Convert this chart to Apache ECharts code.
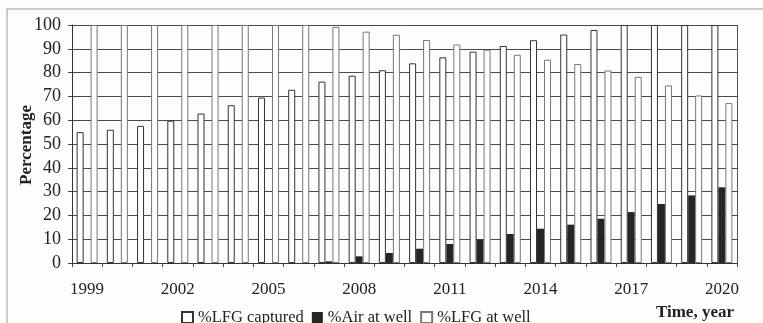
<!DOCTYPE html>
<html>
<head>
<meta charset="utf-8">
<script src="https://cdn.jsdelivr.net/npm/echarts@6/dist/echarts.min.js"></script>
<style>
  html, body { margin: 0; padding: 0; background: #fdfdfd; }
  #chart { width: 763px; height: 323px; }
</style>
</head>
<body>
<div id="chart"></div>
<script>
// years on the x axis
const years = ['1999', '2000', '2001', '2002', '2003', '2004', '2005', '2006', '2007', '2008', '2009',
    '2010', '2011', '2012', '2013', '2014', '2015', '2016', '2017', '2018', '2019', '2020'];

// (percent)
const lfgCaptured = [55, 56, 57.6, 59.8, 62.8, 66.3, 69.5, 72.8, 76.2, 78.7, 81, 83.9, 86.4, 88.8,
    91.2, 93.6, 96, 97.9, 100, 100, 100, 100];
const airAtWell = [0, 0, 0, 0, 0, 0, 0, 0, 0.7, 2.8, 4.2, 6, 8, 9.8, 12.2, 14.4, 16.1, 18.6,
    21.4, 24.8, 28.4, 31.8];
const lfgAtWell = [100, 100, 100, 100, 100, 100, 100, 100, 99.2, 97.2, 95.9, 93.7, 91.8, 89.6,
    87.5, 85.4, 83.6, 80.9, 78.2, 74.6, 70.4, 67.2];

const serif = 'Liberation Serif';

const myChart = echarts.init(document.getElementById('chart'));

const option = {
    backgroundColor: '#fdfdfd',
    animation: false,
    grid: { left: 72, right: 26, top: 25, bottom: 60 },
    legend: {
        top: 304,
        left: 176,
        icon: 'rect',
        itemWidth: 11,
        itemHeight: 11,
        itemGap: 8,
        textStyle: { fontFamily: serif, fontSize: 16.5, color: '#222' },
        data: ['%LFG captured', '%Air at well', '%LFG at well']
    },
    xAxis: {
        type: 'category',
        data: years,
        boundaryGap: true,
        axisLine: { lineStyle: { color: '#333', width: 1 } },
        axisTick: { show: true, interval: 0, length: 4, lineStyle: { color: '#444' } },
        axisLabel: { interval: 2, margin: 18, fontFamily: serif, fontSize: 17, color: '#222' }
    },
    yAxis: {
        type: 'value',
        min: 0,
        max: 100,
        interval: 10,
        axisLine: { show: true, lineStyle: { color: '#333', width: 1 } },
        axisTick: { show: true, length: 4, lineStyle: { color: '#444' } },
        axisLabel: { margin: 11, fontFamily: serif, fontSize: 18, color: '#222' },
        splitLine: { lineStyle: { color: '#4a4a4a', width: 1 } }
    },
    graphic: [
        {
            type: 'rect',
            shape: { x: 7, y: 9, width: 800, height: 400 },
            style: { fill: 'none', stroke: '#999', lineWidth: 1 },
            silent: true
        },
        {
            type: 'line',
            shape: { x1: 737.5, y1: 25, x2: 737.5, y2: 263 },
            style: { stroke: '#555', lineWidth: 1 },
            silent: true
        },
        {
            type: 'text',
            x: 27,
            y: 145,
            rotation: Math.PI / 2,
            style: {
                text: 'Percentage', font: 'bold 17px "Liberation Serif"', fill: '#222',
                textAlign: 'center', textVerticalAlign: 'middle'
            }
        },
        {
            type: 'text',
            x: 734,
            y: 313,
            style: {
                text: 'Time, year', font: 'bold 17px "Liberation Serif"', fill: '#222',
                textAlign: 'right', textVerticalAlign: 'middle'
            }
        }
    ],
    series: [
        {
            name: '%LFG captured',
            type: 'bar',
            data: lfgCaptured,
            barWidth: 7,
            barGap: '0%',
            itemStyle: { color: '#fff', borderColor: '#333', borderWidth: 1 }
        },
        {
            name: '%Air at well',
            type: 'bar',
            data: airAtWell,
            barWidth: 7,
            barGap: '0%',
            itemStyle: { color: '#262626', borderWidth: 0 }
        },
        {
            name: '%LFG at well',
            type: 'bar',
            data: lfgAtWell,
            barWidth: 7,
            barGap: '0%',
            itemStyle: { color: '#fff', borderColor: '#777', borderWidth: 1 }
        }
    ]
};

myChart.setOption(option);
</script>
</body>
</html>
